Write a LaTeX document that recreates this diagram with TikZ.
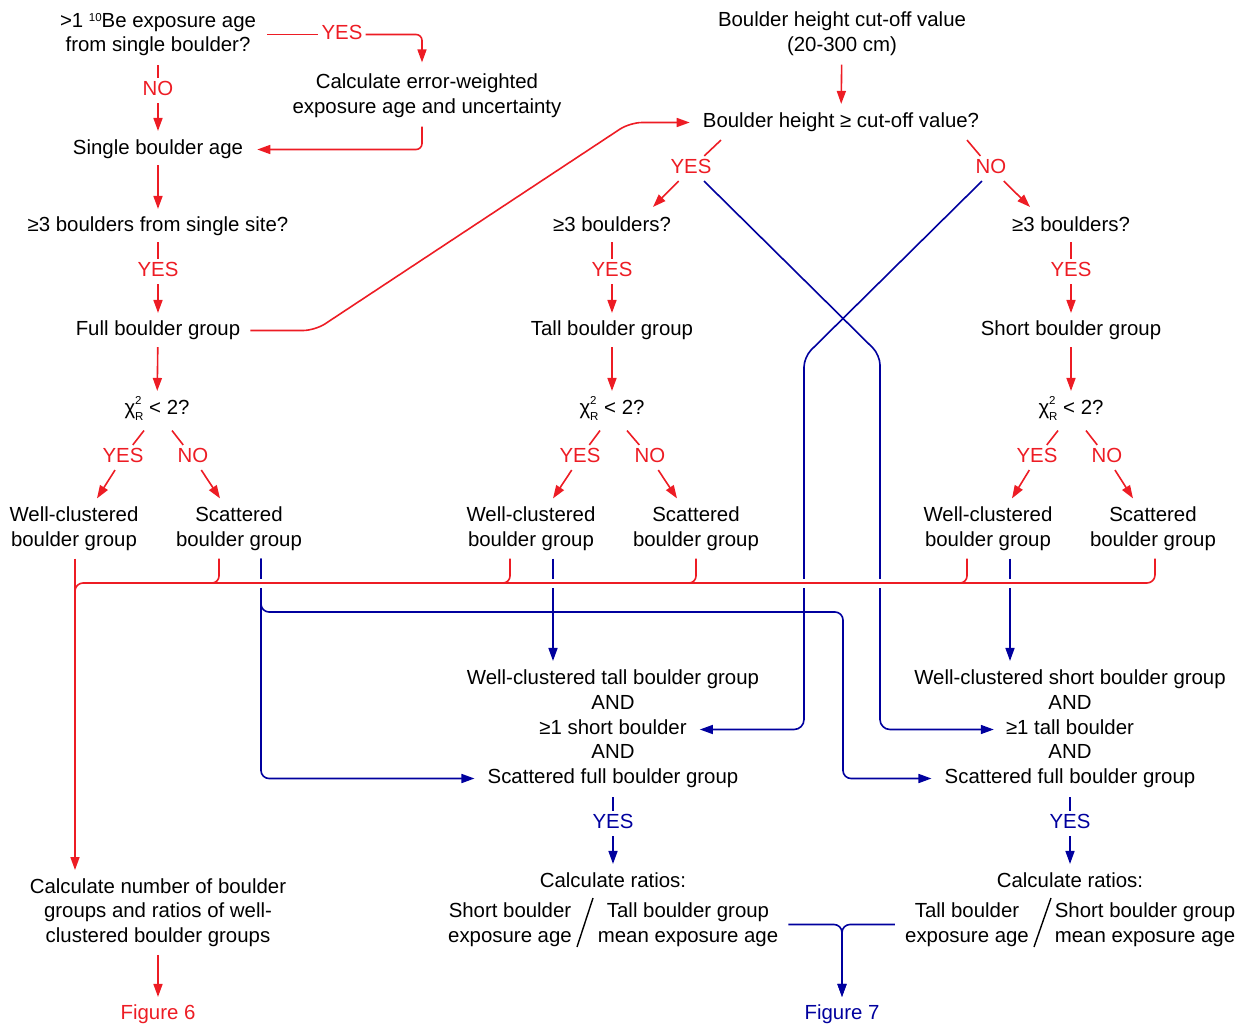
\documentclass[tikz,border=0pt]{standalone}
\usepackage{fontspec}
\setmainfont{Liberation Sans}
\usetikzlibrary{arrows.meta}
\definecolor{cred}{RGB}{237,28,36}
\definecolor{cblue}{RGB}{0,0,158}
\newcommand\fs{\fontsize{20.4}{24.75}\selectfont}
\newcommand\smallfs{\fontsize{11.5}{11.5}\selectfont}
\newcommand\chiR{χ\rlap{\raisebox{0.5em}{\smallfs 2}}\raisebox{-0.28em}{\smallfs R}}
\tikzset{
 txt/.style={align=center, inner sep=0pt, font=\fs, yshift=-1.5pt},
 one/.style={inner sep=0pt, font=\fs, text height=14.5pt, text depth=4.2pt, yshift=-1.5pt},
 lab/.style={inner sep=3pt, font=\fs, text height=14.5pt, text depth=4.2pt, yshift=-1.5pt},
 rl/.style={lab, text=cred},
 bl/.style={lab, text=cblue},
 R/.style={draw=cred, line width=1.6pt},
 B/.style={draw=cblue, line width=1.6pt},
 tip/.style={-{Triangle[length=13pt,width=9pt]}},
}
\begin{document}
\begin{tikzpicture}[x=1pt,y=-1pt]
\useasboundingbox (0,0) rectangle (1245,1025);

% ---------- column 1 ----------
\node[txt] (q1) at (158,33) {>1 {\smallfs\raisebox{0.45em}{10}}Be exposure age\\from single boulder?};
\node[rl] (q1yes) at (342,33) {YES};
\node[rl] (q1no) at (158,89) {NO};
\node[txt] (ew) at (427,94) {Calculate error-weighted\\exposure age and uncertainty};
\node[one] (sba) at (158,148) {Single boulder age};
\node[one] (s3) at (158,225) {≥3 boulders from single site?};
\node[rl] (s3yes) at (158,270) {YES};
\node[one] (full) at (158,329) {Full boulder group};
\node[one] (chi1) at (157,408) {\chiR{} < 2?};
\node[rl] (c1y) at (123,456) {YES};
\node[rl] (c1n) at (193,456) {NO};
\node[txt] (wc1) at (74,527) {Well-clustered\\boulder group};
\node[txt] (sc1) at (239,527) {Scattered\\boulder group};
\node[txt] (calcn) at (158,911) {Calculate number of boulder\\groups and ratios of well-\\clustered boulder groups};
\node[one,text=cred] (fig6) at (158,1013) {Figure 6};

% ---------- top right ----------
\node[txt] (hcut) at (842,32) {Boulder height cut-off value\\(20-300 cm)};
\node[one] (hq) at (841,121) {Boulder height ≥ cut-off value?};
\node[rl] (hyes) at (691,167) {YES};
\node[rl] (hno) at (991,167) {NO};

% ---------- column 2 ----------
\node[one] (b3t) at (612,225) {≥3 boulders?};
\node[rl] (b3ty) at (612,270) {YES};
\node[one] (tall) at (612,329) {Tall boulder group};
\node[one] (chi2) at (612,408) {\chiR{} < 2?};
\node[rl] (c2y) at (580,456) {YES};
\node[rl] (c2n) at (650,456) {NO};
\node[txt] (wc2) at (531,527) {Well-clustered\\boulder group};
\node[txt] (sc2) at (696,527) {Scattered\\boulder group};

% ---------- column 3 ----------
\node[one] (b3s) at (1071,225) {≥3 boulders?};
\node[rl] (b3sy) at (1071,270) {YES};
\node[one] (short) at (1071,329) {Short boulder group};
\node[one] (chi3) at (1071,408) {\chiR{} < 2?};
\node[rl] (c3y) at (1037,456) {YES};
\node[rl] (c3n) at (1107,456) {NO};
\node[txt] (wc3) at (988,527) {Well-clustered\\boulder group};
\node[txt] (sc3) at (1153,527) {Scattered\\boulder group};

% ---------- result blocks ----------
\node[one] (res2a) at (613,678) {Well-clustered tall boulder group};
\node[one] (res2b) at (613,703) {AND};
\node[one] (res2c) at (613,728) {≥1 short boulder};
\node[one] (res2d) at (613,752) {AND};
\node[one] (res2e) at (613,777) {Scattered full boulder group};
\node[bl] (res2y) at (613,822) {YES};
\node[one] (rat2) at (613,881) {Calculate ratios:};
\node[txt] (num2) at (510,923) {Short boulder\\exposure age};
\node[txt] (den2) at (688,923) {Tall boulder group\\mean exposure age};

\node[one] (res3a) at (1070,678) {Well-clustered short boulder group};
\node[one] (res3b) at (1070,703) {AND};
\node[one] (res3c) at (1070,728) {≥1 tall boulder};
\node[one] (res3d) at (1070,752) {AND};
\node[one] (res3e) at (1070,777) {Scattered full boulder group};
\node[bl] (res3y) at (1070,822) {YES};
\node[one] (rat3) at (1070,881) {Calculate ratios:};
\node[txt] (num3) at (967,923) {Tall boulder\\exposure age};
\node[txt] (den3) at (1145,923) {Short boulder group\\mean exposure age};

\node[one,text=cblue] (fig7) at (842,1013) {Figure 7};

% helper coordinates
\coordinate (col) at (0,583);
\coordinate (k1) at (315,0);
\coordinate (k2) at (630,0);
\coordinate (bx) at (843,612);

% slashes
\draw[line width=1.4pt] (593,898) -- (577,947);
\draw[line width=1.4pt] (1051,898) -- (1034,947);

% ---------- red edges, column 1 ----------
\draw[R,shorten <=9pt] (q1) -- (q1no);
\draw[R,tip,shorten >=9pt] (q1no) -- (sba);
\draw[R,shorten <=11pt] (q1.east) -- (q1yes);
\draw[R,tip,rounded corners=6pt,shorten >=11pt] (q1yes) -| ([xshift=-5pt]ew.north);
\draw[R,tip,rounded corners=6pt,shorten <=9pt,shorten >=14pt] ([xshift=-5pt]ew.south) |- (sba.east);
\draw[R,tip,shorten <=6pt,shorten >=8pt] (sba) -- (s3);
\draw[R,shorten <=6pt] (s3) -- (s3yes);
\draw[R,tip,shorten >=8pt] (s3yes) -- (full);
\draw[R,tip,shorten <=7pt,shorten >=9pt] (full) -- (chi1);
\draw[R,tip,rounded corners=12pt,shorten <=10pt,shorten >=13pt] (full.east) -- (full.east -| k1) -- (hq.west -| k2) -- (hq.west);
\draw[R] ([xshift=-13pt,yshift=-11.5pt]chi1.south) -- (c1y);
\draw[R,tip] (c1y) -- ([xshift=23pt,yshift=8pt]wc1.north);
\draw[R] ([xshift=15pt,yshift=-11.5pt]chi1.south) -- (c1n);
\draw[R,tip] (c1n) -- ([xshift=-19pt,yshift=8pt]sc1.north);
\draw[R,tip,shorten <=8pt,shorten >=8pt] (calcn) -- (fig6);

% ---------- red edges, top right ----------
\draw[R,tip,shorten <=9pt,shorten >=9pt] (hcut) -- (hq);
\draw[R] ([xshift=-120pt,yshift=-8pt]hq.south) -- (hyes);
\draw[R,tip] (hyes) -- ([xshift=41pt,yshift=10pt]b3t.north);
\draw[R] ([xshift=126pt,yshift=-8pt]hq.south) -- (hno);
\draw[R,tip] (hno) -- ([xshift=-41pt,yshift=10pt]b3s.north);

% ---------- red edges, column 2 ----------
\draw[R,shorten <=6pt] (b3t) -- (b3ty);
\draw[R,tip,shorten >=8pt] (b3ty) -- (tall);
\draw[R,tip,shorten <=7pt,shorten >=9pt] (tall) -- (chi2);
\draw[R] ([xshift=-12pt,yshift=-11.5pt]chi2.south) -- (c2y);
\draw[R,tip] (c2y) -- ([xshift=22pt,yshift=8pt]wc2.north);
\draw[R] ([xshift=15pt,yshift=-11.5pt]chi2.south) -- (c2n);
\draw[R,tip] (c2n) -- ([xshift=-19pt,yshift=8pt]sc2.north);

% ---------- red edges, column 3 ----------
\draw[R,shorten <=6pt] (b3s) -- (b3sy);
\draw[R,tip,shorten >=8pt] (b3sy) -- (short);
\draw[R,tip,shorten <=7pt,shorten >=9pt] (short) -- (chi3);
\draw[R] ([xshift=-13pt,yshift=-11.5pt]chi3.south) -- (c3y);
\draw[R,tip] (c3y) -- ([xshift=24pt,yshift=8pt]wc3.north);
\draw[R] ([xshift=15pt,yshift=-11.5pt]chi3.south) -- (c3n);
\draw[R,tip] (c3n) -- ([xshift=-20pt,yshift=8pt]sc3.north);

% ---------- blue edges ----------
\draw[B,tip,rounded corners=10pt,shorten >=12pt] ([xshift=13pt]hyes.south) -- (880,355) -- (res3c.west -| 880,0) -- (res3c.west);
\draw[B,tip,rounded corners=10pt,shorten >=13pt] ([xshift=-9pt]hno.south) -- (804,357) -- (res2c.east -| 804,0) -- (res2c.east);
\draw[B,tip,rounded corners=8pt,shorten >=13pt] ([xshift=22pt,yshift=-8pt]sc1.south) |- (res2e.west);
\draw[B,tip,rounded corners=8pt,shorten >=13pt] ([xshift=22pt,yshift=-8pt]sc1.south) |- (bx) |- (res3e.west);
\draw[B,tip,shorten >=9pt] ([xshift=22pt,yshift=-8pt]wc2.south) -- ([xshift=22pt]wc2.south |- res2a.north);
\draw[B,tip,shorten >=9pt] ([xshift=22pt,yshift=-8pt]wc3.south) -- ([xshift=22pt]wc3.south |- res3a.north);
\draw[B,shorten <=9pt] (res2e) -- (res2y);
\draw[B,tip,shorten >=9pt] (res2y) -- (rat2);
\draw[B,shorten <=9pt] (res3e) -- (res3y);
\draw[B,tip,shorten >=9pt] (res3y) -- (rat3);
\draw[B,tip,rounded corners=8pt,shorten <=10pt,shorten >=8pt] (den2.east) -| (fig7.north);
\draw[B,tip,rounded corners=8pt,shorten <=10pt,shorten >=8pt] (num3.west) -| (fig7.north);

% ---------- red collector (over the blue lines) ----------
\draw[white,line width=9pt] (75,583) -- (1155,583);
\draw[R,rounded corners=8pt] ([xshift=2pt,yshift=-8pt]sc3.south) |- (75,583) -- (75,610);
\draw[R,rounded corners=7pt] ([xshift=-20pt,yshift=-8pt]sc1.south) |- ([xshift=-50pt]sc1.south |- col);
\draw[R,rounded corners=7pt] ([xshift=-21pt,yshift=-8pt]wc2.south) |- ([xshift=-51pt]wc2.south |- col);
\draw[R,rounded corners=7pt] ([xshift=0pt,yshift=-8pt]sc2.south) |- ([xshift=-30pt]sc2.south |- col);
\draw[R,rounded corners=7pt] ([xshift=-21pt,yshift=-8pt]wc3.south) |- ([xshift=-51pt]wc3.south |- col);
\draw[R,tip,shorten >=8pt] ([xshift=1pt,yshift=-8pt]wc1.south) -- ([xshift=1pt]wc1.south |- calcn.north);
\end{tikzpicture}
\end{document}
